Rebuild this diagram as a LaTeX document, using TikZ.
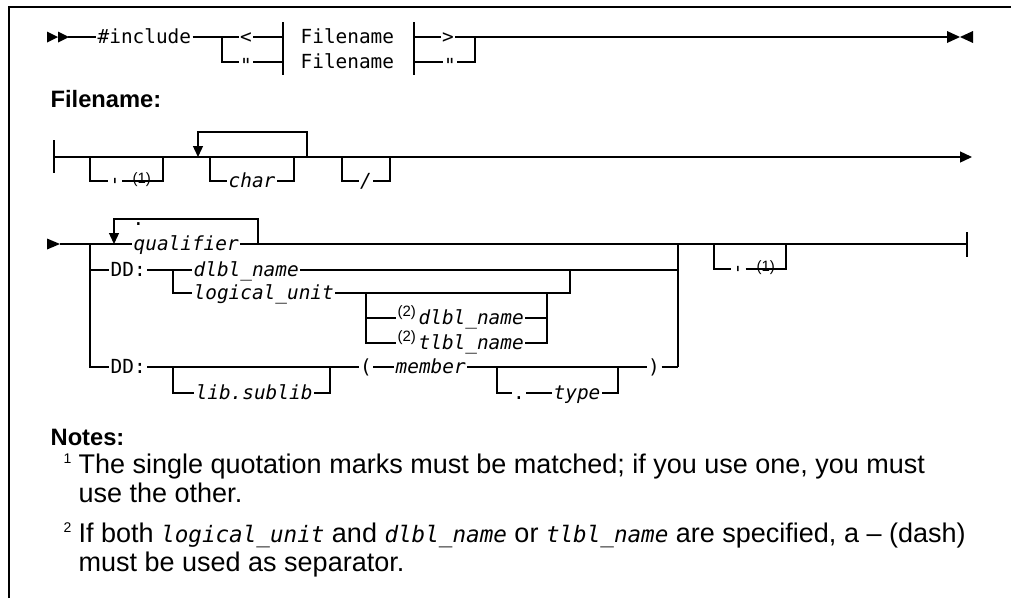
\documentclass[tikz,border=0pt]{standalone}
\usepackage{fontspec}
\setmainfont{Liberation Sans}
\newfontfamily\dmono{DejaVu Sans Mono}[Ligatures=TeXOff]
\usetikzlibrary{arrows.meta}
\newcommand\dgfont{\dmono\fontsize{19.4}{22}\selectfont}
\newcommand\ntfont{\fontsize{27}{30}\selectfont}
\newcommand\nmono{\dmono\itshape\fontsize{22.6}{26}\selectfont}
\begin{document}
\begin{tikzpicture}[x=1pt,y=-1pt,line width=1.3pt,
  lbl/.style={font=\dgfont, inner xsep=1pt, inner ysep=0pt, text height=14pt, text depth=2pt, anchor=west},
  ilbl/.style={lbl, font=\dgfont\itshape},
  clbl/.style={lbl, anchor=center},
  ref/.style={font=\fontsize{15}{17}\selectfont, inner sep=0pt, anchor=base west},
  loopar/.style={-{Triangle[length=11pt,width=10pt]}},
  fwd/.style={-{Triangle[length=12pt,width=11pt]}},
  head/.style={font=\bfseries\fontsize{23.7}{26}\selectfont, inner sep=0pt, anchor=base west},
  note/.style={font=\ntfont, inner sep=0pt, anchor=base west},
  nnum/.style={font=\fontsize{14}{16}\selectfont, inner sep=0pt, anchor=base west},
  frame/.style={line width=1.5pt},
]
\useasboundingbox (0,0) rectangle (1011,598);
\draw[frame] (9,598) -- (9,7) -- (1011,7);

% ---------- top row ----------
\fill (47,31.5) -- (58,37) -- (47,42.5) -- cycle;
\fill (58,31.5) -- (69,37) -- (58,42.5) -- cycle;
\coordinate (t0) at (68,37);
\node[lbl] (inc) at (96,37) {\#include};
\coordinate (ta) at (222,37);
\coordinate (tb) at (222,62);
\node[clbl] (lt) at (246,37) {<};
\node[clbl] (dq1) at (246,62) {\raisebox{-4pt}{"}};
\coordinate (bl1) at (283,22); \coordinate (bl2) at (283,75);
\node[lbl] (fn1) at (299,37) {Filename};
\node[lbl] (fn2) at (299,62) {Filename};
\coordinate (br1) at (414,22); \coordinate (br2) at (414,75);
\node[clbl] (gt) at (448,37) {>};
\node[clbl] (dq2) at (450,62) {\raisebox{-4pt}{"}};
\coordinate (tc) at (475,37);
\coordinate (td) at (475,62);
\coordinate (te) at (948,37);
\draw (t0) -- (inc.west);
\draw (inc.east) -- (ta) -- (lt.west);
\draw (ta) -- (tb) -- (dq1.west);
\draw (lt.east) -- (lt.east -| bl1);
\draw (dq1.east) -- (dq1.east -| bl1);
\draw (bl1) -- (bl2);
\draw (br1) -- (br2);
\draw (gt.west -| br1) -- (gt.west);
\draw (dq2.west -| br1) -- (dq2.west);
\draw (gt.east) -- (tc) -- (te);
\draw (dq2.east) -- (td) -- (tc);
\fill (947,31) -- (960,37) -- (947,43) -- cycle;
\fill (973,31) -- (960,37) -- (973,43) -- cycle;

% ---------- Filename fragment ----------
\node[head] (fnh) at (50,107) {Filename:};

% row 1
\coordinate (a0) at (54,157);
\coordinate (a0t) at (54,140); \coordinate (a0b) at (54,173);
\coordinate (aE) at (972,157);
\draw (a0t) -- (a0b);
\draw[fwd] (a0) -- (aE);
% optional quote
\coordinate (o1a) at (90,157); \coordinate (o1b) at (90,181);
\node[clbl] (sq1) at (115,181) {\raisebox{-5pt}{'}};
\node[ref] (r1) at (132,183) {(1)};
\coordinate (o1c) at (163,181); \coordinate (o1d) at (163,157);
\draw (o1a) -- (o1b) -- (sq1.west);
\draw (sq1.east) -- (o1c) -- (o1d);
% repeat loop
\coordinate (lp1) at (307,157); \coordinate (lp2) at (307,132);
\coordinate (lp3) at (198,132); \coordinate (lp4) at (198,157);
\draw[loopar] (lp1) -- (lp2) -- (lp3) -- (lp4);
% optional char
\coordinate (o2a) at (210,157); \coordinate (o2b) at (210,181);
\node[ilbl] (chr) at (227,181) {char};
\coordinate (o2c) at (294,181); \coordinate (o2d) at (294,157);
\draw (o2a) -- (o2b) -- (chr.west);
\draw (chr.east) -- (o2c) -- (o2d);
% optional slash
\coordinate (o3a) at (342,157); \coordinate (o3b) at (342,181);
\node[ilbl, anchor=center] (sl) at (366,181) {/};
\coordinate (o3c) at (390,181); \coordinate (o3d) at (390,157);
\draw (o3a) -- (o3b) -- (sl.west);
\draw (sl.east) -- (o3c) -- (o3d);

% row 2
\fill (47,238.5) -- (60,244) -- (47,249.5) -- cycle;
\coordinate (b0) at (60,244);
\node[ilbl] (qual) at (132,244) {qualifier};
\coordinate (bE) at (967,244);
\coordinate (bEt) at (967,232); \coordinate (bEb) at (967,257);
\draw (b0) -- (qual.west);
\draw (qual.east) -- (bE);
\draw (bEt) -- (bEb);
\coordinate (q1) at (258,244); \coordinate (q2) at (258,219);
\coordinate (q3) at (114,219); \coordinate (q4) at (114,244);
\draw[loopar] (q1) -- (q2) -- (q3) -- (q4);
\node[lbl] (sep) at (131,219) {.};
% left rail
\coordinate (j0) at (90,244); \coordinate (j1) at (90,270); \coordinate (j2) at (90,367);
\node[lbl] (dd1) at (109,270) {DD:};
\node[lbl] (dd2) at (109,367) {DD:};
\draw (j0) -- (j2) -- (dd2.west);
\draw (j1) -- (dd1.west);
% right rail
\coordinate (k0) at (678,244); \coordinate (k1) at (678,270); \coordinate (k2) at (678,367);
\draw (k0) -- (k2);
% DD: dlbl_name / logical_unit
\coordinate (c1) at (173,270);
\node[ilbl] (dl1) at (192,270) {dlbl\_name};
\draw (dd1.east) -- (c1) -- (dl1.west);
\draw (dl1.east) -- (k1);
\coordinate (c3) at (173,293);
\node[ilbl] (lu) at (192,293) {logical\_unit};
\coordinate (c4) at (570,293); \coordinate (c5) at (570,270);
\draw (c1) -- (c3) -- (lu.west);
\draw (lu.east) -- (c4) -- (c5);
% sub-option after logical_unit
\coordinate (d1) at (366,293); \coordinate (d2) at (366,318); \coordinate (d3) at (366,343);
\coordinate (d4) at (396,318); \coordinate (d5) at (396,343);
\node[ref] (r2a) at (397,316) {(2)};
\node[ref] (r2b) at (397,341) {(2)};
\node[ilbl] (dl2) at (417,318) {dlbl\_name};
\node[ilbl] (tl2) at (417,343) {tlbl\_name};
\coordinate (d6) at (547,318); \coordinate (d7) at (547,343); \coordinate (d8) at (547,293);
\draw (d1) -- (d3) -- (d5);
\draw (d2) -- (d4);
\draw (dl2.east) -- (d6);
\draw (tl2.east) -- (d7) -- (d8);
% DD: lib.sublib (member .type)
\coordinate (e1) at (173,367); \coordinate (e2) at (330,367);
\coordinate (e3) at (497,367); \coordinate (e4) at (618,367);
\node[clbl] (lpar) at (366,367) {(};
\node[ilbl] (mem) at (394,367) {member};
\node[clbl] (rpar) at (654,367) {)};
\draw (dd2.east) -- (lpar.west);
\draw (lpar.east) -- (mem.west);
\draw (mem.east) -- (rpar.west);
\draw (rpar.east) -- (k2);
\coordinate (e1b) at (173,393); \coordinate (e2b) at (330,393);
\node[ilbl] (lib) at (194,393) {lib.sublib};
\draw (e1) -- (e1b) -- (lib.west);
\draw (lib.east) -- (e2b) -- (e2);
\coordinate (e3b) at (497,393); \coordinate (e4b) at (618,393);
\node[clbl] (dot2) at (519,393) {.};
\node[ilbl] (typ) at (552,393) {type};
\draw (e3) -- (e3b) -- (dot2.west);
\draw (dot2.east) -- (typ.west);
\draw (typ.east) -- (e4b) -- (e4);
% optional trailing quote
\coordinate (f1) at (714,244); \coordinate (f2) at (714,269);
\node[clbl] (sq2) at (738,269) {\raisebox{-5pt}{'}};
\node[ref] (r1b) at (756,271) {(1)};
\coordinate (f3) at (786,269); \coordinate (f4) at (786,244);
\draw (f1) -- (f2) -- (sq2.west);
\draw (sq2.east) -- (f3) -- (f4);

% ---------- Notes ----------
\node[head] (nh) at (50,445) {Notes:};
\node[nnum] (n1) at (63,463) {1};
\node[note] (n1a) at (78,473) {The single quotation marks must be matched; if you use one, you must};
\node[note] (n1b) at (78,502) {use the other.};
\node[nnum] (n2) at (63,532) {2};
\node[note] (n2a) at (78,542) {If both {\nmono logical\_unit} and {\nmono dlbl\_name} or {\nmono tlbl\_name} are specified, a – (dash)};
\node[note] (n2b) at (78,571) {must be used as separator.};
\end{tikzpicture}
\end{document}
